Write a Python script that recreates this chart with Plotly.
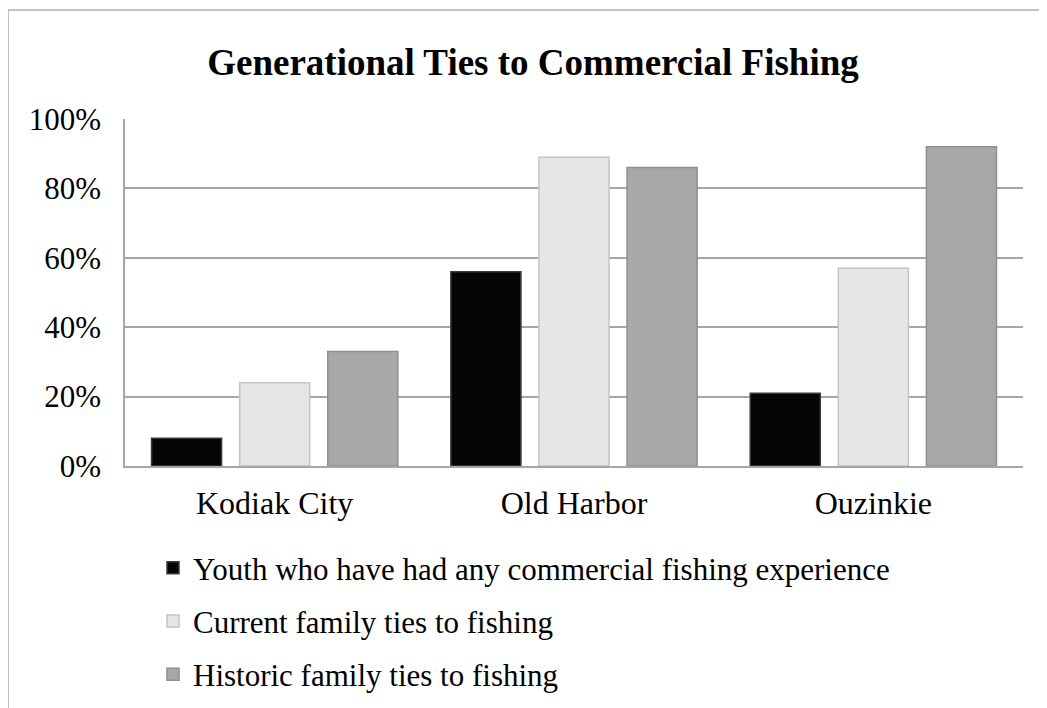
import plotly.graph_objects as go

categories = ["Kodiak City", "Old Harbor", "Ouzinkie"]
series_names = [
    "Youth who have had any commercial fishing experience",
    "Current family ties to fishing",
    "Historic family ties to fishing",
]
youth = [0.08, 0.56, 0.21]
current = [0.24, 0.89, 0.57]
historic = [0.33, 0.86, 0.92]
y_ticks = [0, 0.2, 0.4, 0.6, 0.8, 1.0]
y_tick_labels = ["0%", "20%", "40%", "60%", "80%", "100%"]

fills = ["#050505", "#e6e6e6", "#a8a8a8"]
edges = ["#3a3a3a", "#c4c4c4", "#8e8e8e"]
FONT = "Liberation Serif, Times New Roman, serif"

W, H = 1039, 700
L, R, T, B = 117, 24, 111, 242
PW, PH = W - L - R, H - T - B

fig = go.Figure()
for i, (name, vals) in enumerate(zip(series_names, [youth, current, historic])):
    fig.add_trace(go.Bar(
        x=categories, y=vals, name=name,
        marker=dict(color=fills[i], line=dict(color=edges[i], width=1.5)),
        legendgroup=f"g{i}",
    ))

fig.update_layout(
    width=W, height=H,
    margin=dict(l=L, r=R, t=T, b=B, autoexpand=False),
    paper_bgcolor="white", plot_bgcolor="white",
    font=dict(family=FONT, color="black"),
    title=dict(text="<b>Generational Ties to Commercial Fishing</b>",
               x=525 / W, xref="container", xanchor="center",
               y=1 - 54 / H, yanchor="middle",
               font=dict(family=FONT, size=37, color="black")),
    barmode="group", bargap=0.117, bargroupgap=0.205,
    showlegend=True,
    legend=dict(orientation="v", x=28 / PW, xanchor="left",
                y=-75 / PH, yanchor="top",
                font=dict(family=FONT, size=31, color="black"),
                traceorder="grouped", tracegroupgap=10,
                bgcolor="rgba(0,0,0,0)"),
)
fig.update_yaxes(range=[0, 1], tickvals=y_ticks, ticktext=y_tick_labels,
                 showgrid=True, gridcolor="#a6a6a6", gridwidth=1.5,
                 showline=True, linecolor="#a6a6a6", linewidth=1.5,
                 zeroline=False, ticks="", ticklabelstandoff=16,
                 tickfont=dict(family=FONT, size=31, color="black"))
fig.update_xaxes(showline=True, linecolor="#a6a6a6", linewidth=1.5,
                 ticks="", ticklabelstandoff=8,
                 tickfont=dict(family=FONT, size=32, color="black"))
fig.add_shape(type="rect", xref="paper", yref="paper",
              x0=-L / PW, x1=1.1, y0=-1, y1=1 + (T - 2) / PH,
              line=dict(color="#b0b0b0", width=1.5), layer="below")

fig.write_html("out.html")
